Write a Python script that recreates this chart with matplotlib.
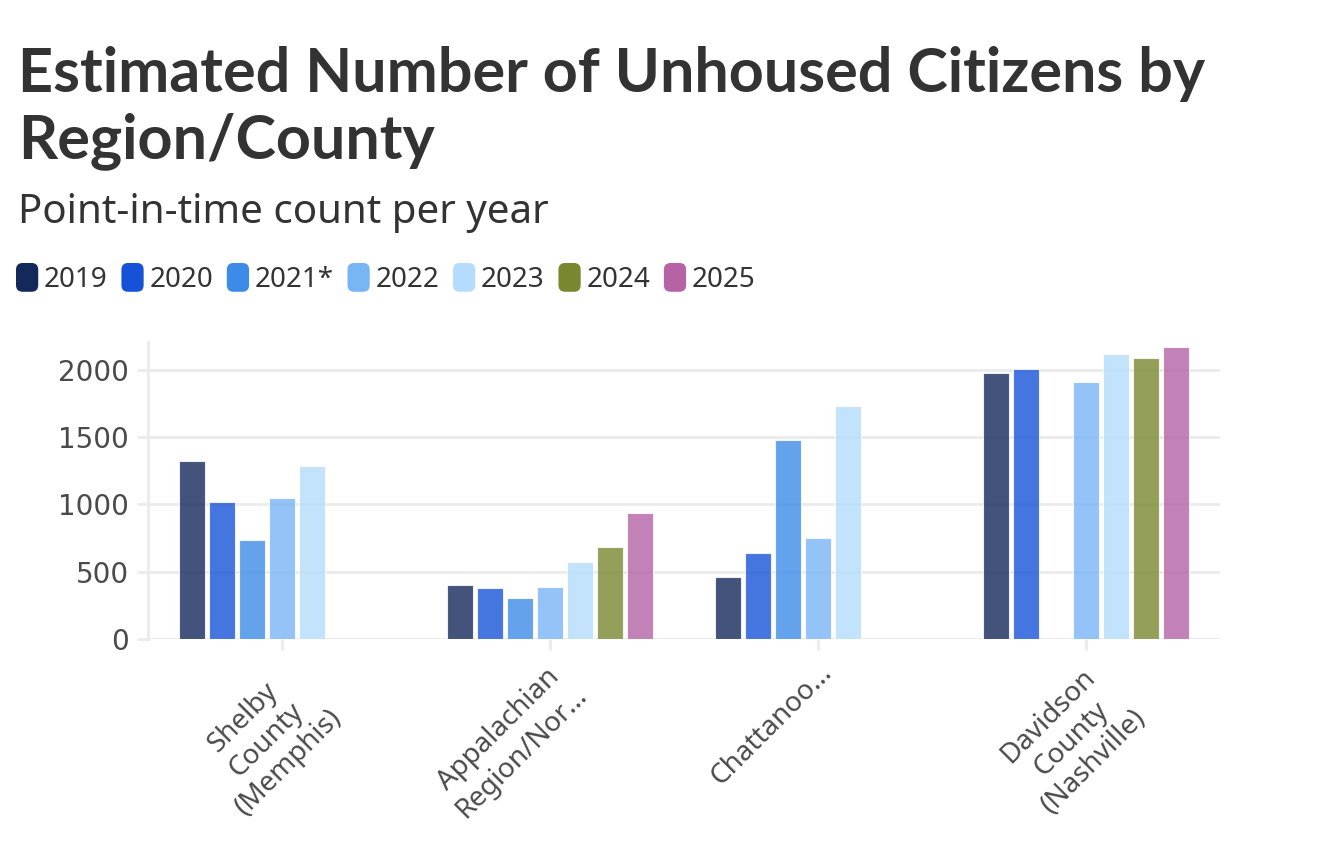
import numpy as np
import matplotlib
matplotlib.use("Agg")
import matplotlib.pyplot as plt
from matplotlib.patches import FancyBboxPatch
from matplotlib.legend_handler import HandlerPatch
import matplotlib.patches as mpatches

plt.rcParams['font.family'] = ['Noto Sans', 'DejaVu Sans']

categories = ["Shelby\nCounty\n(Memphis)", "Appalachian\nRegion/Nor...",
              "Chattanoo...", "Davidson\nCounty\n(Nashville)"]
years = ["2019", "2020", "2021*", "2022", "2023", "2024", "2025"]
colors = ["#14285a", "#1652d8", "#3d8be8", "#78b5f5", "#b5dcfc", "#798730", "#b563a5"]
nan = np.nan
values = {
    "2019": [1320, 401, 460, 1980],
    "2020": [1015, 382, 643, 2010],
    "2021*": [735, 307, 1477, nan],
    "2022": [1049, 389, 752, 1910],
    "2023": [1285, 569, 1730, 2122],
    "2024": [nan, 683, nan, 2088],
    "2025": [nan, 938, nan, 2174],
}
yticks = [0, 500, 1000, 1500, 2000]

W, H = 1336, 846
fig = plt.figure(figsize=(W / 100, H / 100), dpi=100)
ax = fig.add_axes([148 / W, 1 - 639 / H, (1220 - 148) / W, (639 - 342) / H])

slot = 0.112
bw = 0.097
x = np.arange(len(categories))
for j, yr in enumerate(years):
    vals = np.array(values[yr], dtype=float)
    m = ~np.isnan(vals)
    ax.bar(x[m] + (j - 3) * slot, vals[m], width=bw, color=colors[j], alpha=0.8,
           edgecolor="#ffffff", linewidth=0.8, zorder=3)

ax.set_xlim(-0.5, 3.5)
ax.set_ylim(0, 2208)
ax.set_yticks(yticks)
ax.set_yticklabels([str(t) for t in yticks], fontfamily="DejaVu Sans", fontsize=20)
ax.set_xticks(x)
ax.set_xticklabels(categories, rotation=45, ha="right", va="top",
                   rotation_mode="anchor", multialignment="center", fontsize=20)
ax.grid(axis="y", color="#ebebeb", linewidth=2, zorder=0)
ax.grid(axis="x", visible=False)
for s in ["top", "right", "bottom"]:
    ax.spines[s].set_visible(False)
ax.spines["left"].set_color("#ebebeb")
ax.spines["left"].set_linewidth(2)
ax.tick_params(axis="both", colors="#ebebeb", length=8, width=2,
               labelcolor="#4a4a4a")
ax.tick_params(axis="y", pad=6)
ax.tick_params(axis="x", pad=6)
ax.set_axisbelow(True)

# Title and subtitle
fig.text(18 / W, 1 - 92 / H, "Estimated Number of Unhoused Citizens by",
         fontsize=44, fontweight="bold", fontfamily="Lato", color="#333333",
         ha="left", va="baseline")
fig.text(18 / W, 1 - 158 / H, "Region/County",
         fontsize=44, fontweight="bold", fontfamily="Lato", color="#333333",
         ha="left", va="baseline")
fig.text(18 / W, 1 - 223 / H, "Point-in-time count per year",
         fontsize=29, color="#333333", ha="left", va="baseline")


class RoundHandler(HandlerPatch):
    def create_artists(self, legend, orig_handle, xdescent, ydescent, width,
                       height, fontsize, trans):
        p = FancyBboxPatch((-xdescent, -ydescent - height * 0.15), width, height * 1.3,
                           boxstyle="round,pad=0,rounding_size=%f" % (width * 0.3),
                           facecolor=orig_handle.get_facecolor(), edgecolor="none",
                           transform=trans)
        return [p]


handles = [mpatches.Patch(facecolor=c) for c in colors]
fig.legend(handles, years, loc="center left", bbox_to_anchor=(-9 / W, 1 - 280 / H),
           ncol=7, frameon=False, fontsize=20, handlelength=0.8, handleheight=0.85,
           handletextpad=0.2, columnspacing=0.5, labelcolor="#333333",
           handler_map={mpatches.Patch: RoundHandler()})

fig.savefig("out.png", dpi=100)
